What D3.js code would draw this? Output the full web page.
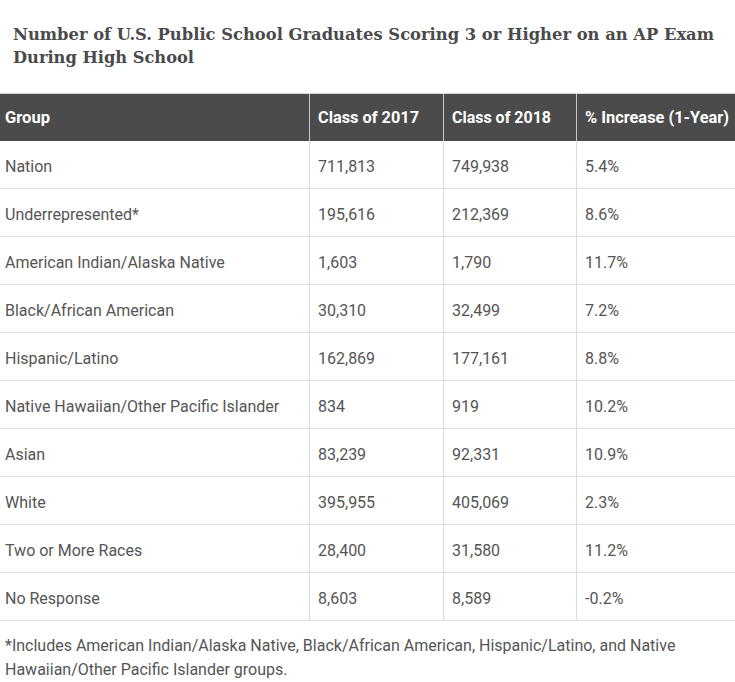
<!DOCTYPE html>
<html><head><meta charset="utf-8">
<script src="https://cdn.jsdelivr.net/npm/d3@7"></script>
<style>
html,body{margin:0;padding:0;background:#fff;}
svg{display:block;}
</style></head>
<body>
<svg id="chart" width="735" height="682"></svg>
<script>
const titleLines = ["Number of U.S. Public School Graduates Scoring 3 or Higher on an AP Exam", "During High School"];
const headers = ["Group", "Class of 2017", "Class of 2018", "% Increase (1-Year)"];
const groups = ["Nation", "Underrepresented*", "American Indian/Alaska Native", "Black/African American", "Hispanic/Latino", "Native Hawaiian/Other Pacific Islander", "Asian", "White", "Two or More Races", "No Response"];
const class2017 = ["711,813", "195,616", "1,603", "30,310", "162,869", "834", "83,239", "395,955", "28,400", "8,603"];
const class2018 = ["749,938", "212,369", "1,790", "32,499", "177,161", "919", "92,331", "405,069", "31,580", "8,589"];
const increase = ["5.4%", "8.6%", "11.7%", "7.2%", "8.8%", "10.2%", "10.9%", "2.3%", "11.2%", "-0.2%"];
const footnote = ["*Includes American Indian/Alaska Native, Black/African American, Hispanic/Latino, and Native", "Hawaiian/Other Pacific Islander groups."];

const svg = d3.select("#chart");
const W = 735;

// Title
const titleW = [701, 181];
svg.selectAll("text.title").data(titleLines).join("text")
  .attr("class", "title")
  .attr("x", 13).attr("y", (d, i) => 40 + i * 23)
  .attr("font-family", "'DejaVu Serif Condensed', 'DejaVu Serif', serif")
  .style("font-stretch", "condensed")
  .attr("font-weight", "bold")
  .attr("font-size", 17.5)
  .attr("fill", "#4a4a4a")
  .attr("textLength", (d, i) => titleW[i])
  .attr("lengthAdjust", "spacingAndGlyphs")
  .text(d => d);

// Table geometry
const colStarts = [0, 309, 443, 576];
const colX = d3.scaleOrdinal().domain(headers).range(colStarts);
const headTop = 94, headH = 47;
const bodyTop = headTop + headH;
const y = d3.scaleBand().domain(groups).range([bodyTop, bodyTop + groups.length * 48]);

// header background
svg.append("line").attr("x1", 0).attr("x2", W).attr("y1", headTop - 0.5).attr("y2", headTop - 0.5)
  .attr("stroke", "#d8d8d8").attr("stroke-width", 1);
svg.append("rect").attr("x", 0).attr("y", headTop).attr("width", W).attr("height", headH).attr("fill", "#4b4b4b");

// header texts
const headW = [45, 101, 99, 144];
svg.selectAll("text.head").data(headers).join("text")
  .attr("class", "head")
  .attr("x", d => colX(d) + (d === "Group" ? 5 : 9))
  .attr("y", headTop + 29)
  .attr("font-family", "Roboto, sans-serif")
  .attr("font-weight", "bold")
  .attr("font-size", 16.5)
  .attr("fill", "#ffffff")
  .attr("textLength", (d, i) => headW[i])
  .attr("lengthAdjust", "spacingAndGlyphs")
  .text(d => d);

// row separators
svg.selectAll("line.row").data(groups).join("line")
  .attr("class", "row")
  .attr("x1", 0).attr("x2", W)
  .attr("y1", d => y(d) + y.bandwidth() - 0.5)
  .attr("y2", d => y(d) + y.bandwidth() - 0.5)
  .attr("stroke", "#dcdcdc").attr("stroke-width", 1);

// column separators
svg.selectAll("line.colHead").data(headers.slice(1)).join("line")
  .attr("class", "colHead")
  .attr("x1", d => colX(d) + 0.5).attr("x2", d => colX(d) + 0.5)
  .attr("y1", headTop).attr("y2", bodyTop)
  .attr("stroke", "#c8c8c8").attr("stroke-width", 1);
svg.selectAll("line.col").data(headers.slice(1)).join("line")
  .attr("class", "col")
  .attr("x1", d => colX(d) + 0.5).attr("x2", d => colX(d) + 0.5)
  .attr("y1", bodyTop).attr("y2", y.range()[1])
  .attr("stroke", "#dcdcdc").attr("stroke-width", 1);

// body cells
const rows = groups.map((g, i) => [g, class2017[i], class2018[i], increase[i]]);
const rowG = svg.selectAll("g.r").data(rows).join("g").attr("class", "r")
  .attr("transform", d => `translate(0,${y(d[0])})`);
rowG.selectAll("text").data(d => d.map((v, j) => ({v, j}))).join("text")
  .attr("x", d => colStarts[d.j] + (d.j === 0 ? 5 : 9))
  .attr("y", 30.5)
  .attr("font-family", "Roboto, sans-serif")
  .attr("font-size", 16)
  .attr("fill", "#555555")
  .text(d => d.v);

// footnote
svg.selectAll("text.foot").data(footnote).join("text")
  .attr("class", "foot")
  .attr("x", 5).attr("y", (d, i) => 651 + i * 24)
  .attr("font-family", "Roboto, sans-serif")
  .attr("font-size", 16)
  .attr("fill", "#555555")
  .text(d => d);
</script>
</body></html>
